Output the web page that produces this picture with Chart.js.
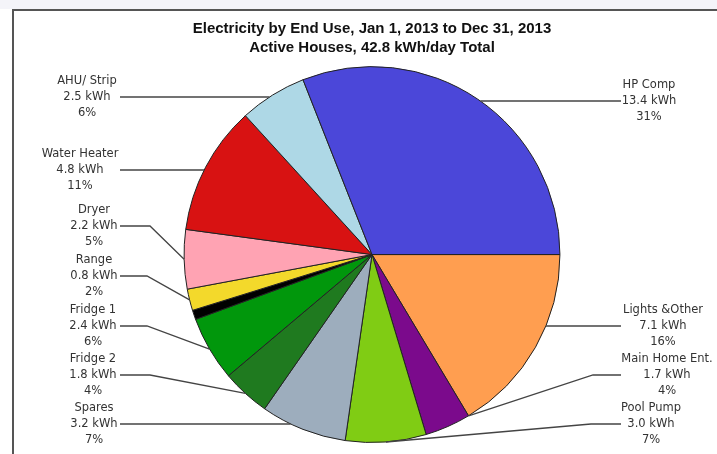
<!DOCTYPE html>
<html lang="en">
<head>
    <meta charset="UTF-8">
    <title>Electricity by End Use</title>
    <style>
        * {
            margin: 0;
            padding: 0;
            box-sizing: border-box;
        }

        body {
            background: #fff;
            width: 717px;
            height: 454px;
            overflow: hidden;
            position: relative;
        }

        .topband {
            position: absolute;
            left: 0;
            top: 0;
            width: 717px;
            height: 9px;
            background: #f4f4f9;
        }

        .frame {
            position: absolute;
            left: 12px;
            top: 9px;
            right: -4px;
            bottom: -4px;
            border-left: 2px solid #555;
            border-top: 2px solid #555;
            background: #fff;
        }

        #pieChart {
            position: absolute;
            left: 0;
            top: 0;
        }
    </style>
</head>
<body>
    <div class="topband"></div>
    <div class="frame"></div>
    <canvas id="pieChart" width="717" height="454"></canvas>

    <script src="https://cdn.jsdelivr.net/npm/chart.js"></script>

    <script>
        // slices, clockwise from 3 o'clock
        const categories = ['Lights &Other', 'Main Home Ent.', 'Pool Pump', 'Spares', 'Fridge 2', 'Fridge 1',
                            '', 'Range', 'Dryer', 'Water Heater', 'AHU/ Strip', 'HP Comp'];
        const kwh = [7.1, 1.7, 3.0, 3.2, 1.8, 2.4, 0.35, 0.8, 2.2, 4.8, 2.5, 13.4];
        const pcts = [16, 4, 7, 7, 4, 6, 1, 2, 5, 11, 6, 31];
        const colors = ['#ff9e50', '#7b0a8c', '#80cc14', '#9dadbd', '#1f7a1f', '#01970c',
                        '#000000', '#f3d92b', '#ffa3b3', '#d81212', '#aed8e6', '#4b47d9'];
        const titleLines = ['Electricity by End Use, Jan 1, 2013 to Dec 31, 2013',
                            'Active Houses, 42.8 kWh/day Total'];

        // where each label sits (middle line), and the leader bend if any
        const labelPos = [
            {x: 663, y: 326},
            {x: 667, y: 375, bend: 593, at: 0},
            {x: 651, y: 424, bend: 591, at: 0.5},
            {x: 94, y: 424},
            {x: 93, y: 375, bend: 150, at: 0.5},
            {x: 93, y: 326, bend: 147, at: 0.5},
            null,
            {x: 94, y: 276, bend: 147, at: 0.5},
            {x: 94, y: 226, bend: 150, at: 0.5},
            {x: 80, y: 170},
            {x: 87, y: 97},
            {x: 649, y: 101}
        ];
        const leftLineStart = 120;
        const rightLineStart = 621;
        const lineGap = 16.3;

        const outerLabels = {
            id: 'outerLabels',
            afterDatasetsDraw(chart) {
                const ctx = chart.ctx;
                const arcs = chart.getDatasetMeta(0).data;
                ctx.save();
                ctx.font = '11.5px "DejaVu Sans"';
                ctx.textAlign = 'center';
                ctx.textBaseline = 'middle';

                arcs.forEach((arc, i) => {
                    const pos = labelPos[i];
                    if (!pos) return;
                    const p = arc.getProps(['x', 'y', 'startAngle', 'endAngle', 'outerRadius'], true);
                    const left = pos.x < p.x;

                    const lines = [categories[i], kwh[i].toFixed(1) + ' kWh', pcts[i] + '%'];
                    ctx.fillStyle = '#333';
                    lines.forEach((t, k) => ctx.fillText(t, pos.x, pos.y + (k - 1) * lineGap));

                    // leader line
                    ctx.beginPath();
                    ctx.moveTo(left ? leftLineStart : rightLineStart, pos.y);
                    let ex, ey;
                    if (pos.bend === undefined) {
                        const dy = pos.y - p.y;
                        const dx = Math.sqrt(Math.max(p.outerRadius * p.outerRadius - dy * dy, 0));
                        ex = left ? p.x - dx : p.x + dx;
                        ey = pos.y;
                    } else {
                        ctx.lineTo(pos.bend, pos.y);
                        const a = p.startAngle + (p.endAngle - p.startAngle) * pos.at;
                        ex = p.x + Math.cos(a) * p.outerRadius;
                        ey = p.y + Math.sin(a) * p.outerRadius;
                    }
                    ctx.lineTo(ex, ey);
                    ctx.strokeStyle = '#444';
                    ctx.lineWidth = 1.3;
                    ctx.stroke();
                });
                ctx.restore();
            }
        };

        new Chart(document.getElementById('pieChart'), {
            type: 'pie',
            data: {
                labels: categories,
                datasets: [{
                    data: kwh,
                    backgroundColor: colors,
                    borderColor: '#222',
                    borderWidth: 1
                }]
            },
            options: {
                responsive: false,
                animation: false,
                rotation: 90,
                layout: {
                    padding: {left: 183, right: 156, top: 0, bottom: 11}
                },
                plugins: {
                    legend: { display: false },
                    tooltip: { enabled: false },
                    title: {
                        display: true,
                        text: titleLines,
                        color: '#111',
                        font: { family: '"Liberation Sans", Arial', size: 15, weight: 'bold', lineHeight: 1.27 },
                        padding: { top: 19, bottom: 9 }
                    }
                }
            },
            plugins: [outerLabels]
        });
    </script>
</body>
</html>
